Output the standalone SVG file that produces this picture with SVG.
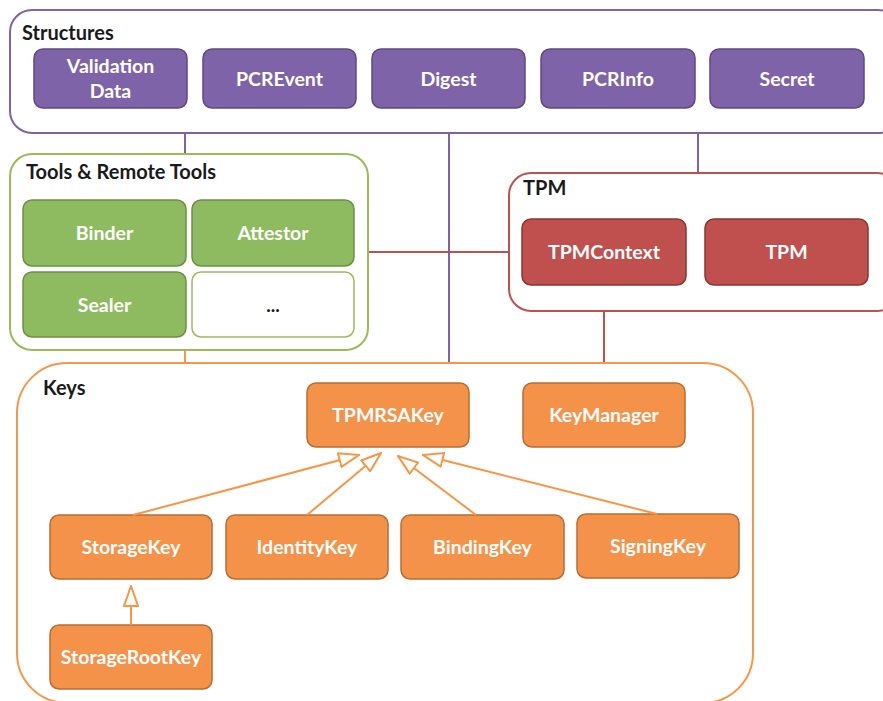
<svg xmlns="http://www.w3.org/2000/svg" width="883" height="701" viewBox="0 0 883 701">
<style>
  text { font-family: Lato, "Open Sans", "Liberation Sans", sans-serif; font-weight: bold; }
  .lbl { fill: #ffffff; font-size: 19.5px; text-anchor: middle; }
  .title { fill: #1a1a1a; font-size: 20px; }
  .dots { fill: #1a1a1a; font-size: 19px; text-anchor: middle; }
  .cont { fill: #ffffff; stroke-width: 2; }
  .purple { fill: #7f63a8; stroke: #5e4a80; stroke-width: 1.5; }
  .green { fill: #8fbb60; stroke: #6f8e45; stroke-width: 1.5; }
  .red { fill: #bf504e; stroke: #8a3533; stroke-width: 1.5; }
  .orange { fill: #f5924a; stroke: #b56e33; stroke-width: 1.5; }
  .cp { stroke: #8064a2; stroke-width: 2; fill: none; }
  .cr { stroke: #c0504d; stroke-width: 2; fill: none; }
  .co { stroke: #f79646; stroke-width: 2; fill: none; }
  .inh { stroke: #f79646; stroke-width: 2; fill: none; marker-end: url(#tri); }
</style>
<defs>
  <marker id="tri" viewBox="0 0 22 16" refX="21" refY="8" markerWidth="22" markerHeight="16" markerUnits="userSpaceOnUse" orient="auto">
    <path d="M1,1 L21,8 L1,15 Z" fill="#ffffff" stroke="#f79646" stroke-width="2" stroke-linejoin="miter"/>
  </marker>
</defs>

<g id="connectors">
  <line class="cp" x1="185" y1="133" x2="185" y2="154"/>
  <line class="cp" x1="449" y1="133" x2="449" y2="363"/>
  <line class="cp" x1="698" y1="133" x2="698" y2="173"/>
  <line class="cr" x1="368" y1="252" x2="509" y2="252"/>
  <line class="co" x1="185" y1="350" x2="185" y2="363"/>
  <line class="cr" x1="604" y1="311" x2="604" y2="383"/>
  <line class="cr" x1="469" y1="415" x2="523" y2="415"/>
</g>

<g id="structures">
  <rect class="cont" x="10" y="10" width="890" height="123" rx="22" stroke="#8064a2"/>
  <text class="title" x="22" y="40">Structures</text>
</g>
<g id="tools">
  <rect class="cont" x="10" y="154" width="358" height="196" rx="22" stroke="#9bbb59"/>
  <text class="title" x="26" y="179">Tools &amp; Remote Tools</text>
</g>
<g id="tpm-group">
  <rect class="cont" x="509" y="173" width="390" height="138" rx="22" stroke="#c0504d"/>
  <text class="title" x="523" y="195">TPM</text>
</g>
<g id="keys">
  <rect class="cont" x="17" y="363" width="736" height="340" rx="50" stroke="#f79646"/>
  <text class="title" x="43" y="395">Keys</text>
</g>

<g id="validation-data"><rect class="purple" x="34" y="49" width="153" height="59" rx="9"/><text class="lbl" x="110.5" y="73">Validation</text><text class="lbl" x="110.5" y="98">Data</text></g>
<g id="pcrevent"><rect class="purple" x="203" y="49" width="153" height="59" rx="9"/><text class="lbl" x="279.5" y="86">PCREvent</text></g>
<g id="digest"><rect class="purple" x="372" y="49" width="153" height="59" rx="9"/><text class="lbl" x="448.5" y="86">Digest</text></g>
<g id="pcrinfo"><rect class="purple" x="541" y="49" width="154" height="59" rx="9"/><text class="lbl" x="618" y="86">PCRInfo</text></g>
<g id="secret"><rect class="purple" x="710" y="49" width="154" height="59" rx="9"/><text class="lbl" x="787" y="86">Secret</text></g>

<g id="binder"><rect class="green" x="23" y="200" width="163" height="66" rx="9"/><text class="lbl" x="104.5" y="240">Binder</text></g>
<g id="attestor"><rect class="green" x="192" y="200" width="162" height="66" rx="9"/><text class="lbl" x="273" y="240">Attestor</text></g>
<g id="sealer"><rect class="green" x="23" y="272" width="163" height="65" rx="9"/><text class="lbl" x="104.5" y="312">Sealer</text></g>
<g id="more"><rect x="192" y="272" width="162" height="65" rx="9" fill="#ffffff" stroke="#9bbb59" stroke-width="1.5"/><text class="dots" x="273" y="312">...</text></g>

<g id="tpmcontext"><rect class="red" x="522" y="219" width="164" height="66" rx="9"/><text class="lbl" x="604" y="259">TPMContext</text></g>
<g id="tpm"><rect class="red" x="705" y="219" width="163" height="66" rx="9"/><text class="lbl" x="786.5" y="259">TPM</text></g>

<g id="tpmrsakey"><rect class="orange" x="307" y="383" width="162" height="64" rx="9"/><text class="lbl" x="388" y="422">TPMRSAKey</text></g>
<g id="keymanager"><rect class="orange" x="523" y="383" width="162" height="64" rx="9"/><text class="lbl" x="604" y="422">KeyManager</text></g>
<g id="storagekey"><rect class="orange" x="50" y="515" width="162" height="64" rx="9"/><text class="lbl" x="131" y="554">StorageKey</text></g>
<g id="identitykey"><rect class="orange" x="226" y="515" width="162" height="64" rx="9"/><text class="lbl" x="307" y="554">IdentityKey</text></g>
<g id="bindingkey"><rect class="orange" x="401" y="515" width="163" height="64" rx="9"/><text class="lbl" x="482.5" y="554">BindingKey</text></g>
<g id="signingkey"><rect class="orange" x="577" y="514" width="162" height="64" rx="9"/><text class="lbl" x="658" y="553">SigningKey</text></g>
<g id="storagerootkey"><rect class="orange" x="50" y="625" width="162" height="64" rx="9"/><text class="lbl" x="131" y="664">StorageRootKey</text></g>

<g id="inheritance">
  <line class="inh" x1="133" y1="515" x2="359" y2="455"/>
  <line class="inh" x1="307" y1="515" x2="381" y2="453"/>
  <line class="inh" x1="476" y1="515" x2="398" y2="456"/>
  <line class="inh" x1="657" y1="514" x2="423" y2="455"/>
  <line class="inh" x1="131" y1="625" x2="131" y2="586"/>
</g>
</svg>
